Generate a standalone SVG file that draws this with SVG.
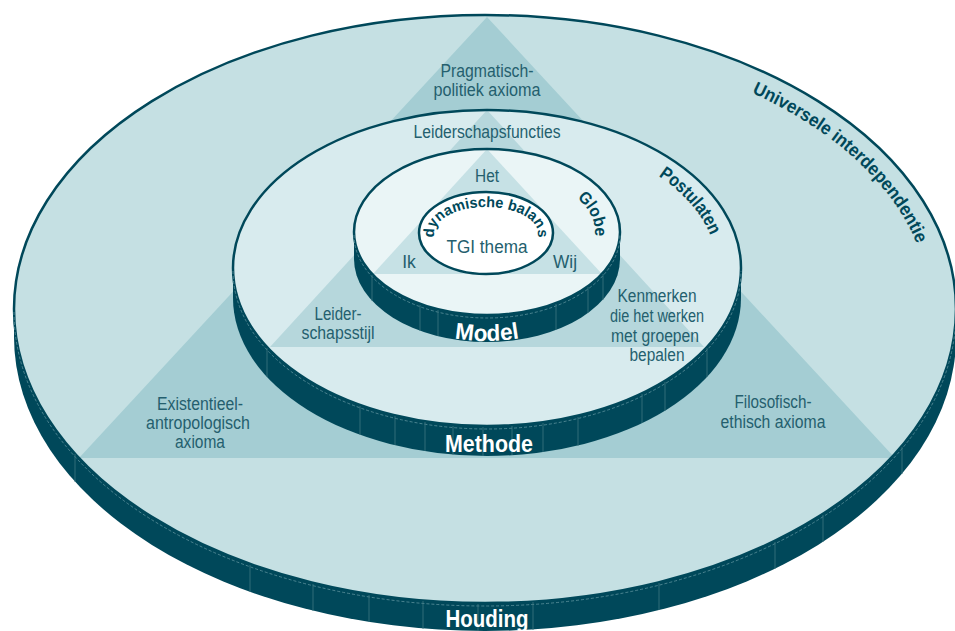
<svg xmlns="http://www.w3.org/2000/svg" width="955" height="631" viewBox="0 0 955 631">
<style>
.dark{fill:#00485a}
.edge{fill:none;stroke:#00485a;stroke-width:2.5}
.seg{stroke:#3d7682;stroke-width:0.8}
.dash{fill:none;stroke:#6a9ca6;stroke-width:0.7;stroke-dasharray:3 2}
.lbl{font-family:"Liberation Sans",Arial,sans-serif;font-size:17.5px;fill:#245f6e;text-anchor:middle}
.bold{font-family:"Liberation Sans",Arial,sans-serif;font-weight:bold;fill:#00485a}
.white{font-family:"Liberation Sans",Arial,sans-serif;font-weight:bold;fill:#ffffff;text-anchor:middle}
</style>
<defs>
<clipPath id="clipOuter"><ellipse cx="485" cy="309" rx="471" ry="294"/></clipPath>
<clipPath id="clipMiddle"><ellipse cx="487" cy="268" rx="254" ry="158"/></clipPath>
<clipPath id="clipInner"><ellipse cx="487" cy="232" rx="133" ry="83"/></clipPath>
<path id="pUniv" d="M485,39 A445,270 0 0 1 485,579"/>
<path id="pPost" d="M487,130 A230,138 0 0 1 487,406"/>
<path id="pGlobe" d="M487,170 A108,62 0 0 1 487,294"/>
<path id="pDyn" d="M435.3,240 A52,27 0 1 1 536.7,240"/>
<path id="pModel" d="M357,256 A130,85 0 0 0 617,256"/>
</defs>

<g id="houding">
<ellipse class="dark" cx="485" cy="337" rx="471" ry="294"/>
<rect class="dark" x="14" y="309" width="942" height="28"/>
<ellipse cx="485" cy="309" rx="471" ry="294" fill="#c5e0e3"/>
<polygon points="487,17 79,458 895,458" fill="#a4cdd3" clip-path="url(#clipOuter)"/>
<ellipse class="edge" cx="485" cy="309" rx="471" ry="294"/>
<path class="dash" d="M14,312 A471,294 0 0 0 956,312"/>
<g class="seg">
<line x1="75" y1="454" x2="75" y2="482"/>
<line x1="250" y1="565" x2="250" y2="592"/>
<line x1="313" y1="584" x2="313" y2="611"/>
<line x1="369" y1="595" x2="369" y2="622"/>
<line x1="423" y1="601" x2="423" y2="629"/>
<line x1="478" y1="604" x2="478" y2="631"/>
<line x1="533" y1="602" x2="533" y2="630"/>
<line x1="659" y1="583" x2="659" y2="610"/>
<line x1="775" y1="542" x2="775" y2="569"/>
<line x1="823" y1="515" x2="823" y2="542"/>
<line x1="902" y1="447" x2="902" y2="474"/>
</g>
<text class="white" x="487" y="627" font-size="23" textLength="83" lengthAdjust="spacingAndGlyphs">Houding</text>
<text class="bold" font-size="18.5"><textPath href="#pUniv" startOffset="274" textLength="229" lengthAdjust="spacingAndGlyphs">Universele interdependentie</textPath></text>
<text class="lbl"><tspan x="487" y="77" textLength="93" lengthAdjust="spacingAndGlyphs">Pragmatisch-</tspan></text>
<text class="lbl"><tspan x="487" y="96" textLength="107" lengthAdjust="spacingAndGlyphs">politiek axioma</tspan></text>
<text class="lbl" x="200" y="410" textLength="86" lengthAdjust="spacingAndGlyphs">Existentieel-</text>
<text class="lbl" x="198" y="429" textLength="104" lengthAdjust="spacingAndGlyphs">antropologisch</text>
<text class="lbl" x="200" y="448" textLength="50" lengthAdjust="spacingAndGlyphs">axioma</text>
<text class="lbl" x="773" y="408" textLength="77" lengthAdjust="spacingAndGlyphs">Filosofisch-</text>
<text class="lbl" x="773" y="428" textLength="105" lengthAdjust="spacingAndGlyphs">ethisch axioma</text>
</g>

<g id="methode">
<ellipse class="dark" cx="487" cy="298" rx="254" ry="158"/>
<rect class="dark" x="233" y="268" width="508" height="30"/>
<ellipse cx="487" cy="268" rx="254" ry="158" fill="#d8ebee"/>
<polygon points="487,110 270,347 704,347" fill="#b6d7dc" clip-path="url(#clipMiddle)"/>
<ellipse class="edge" cx="487" cy="268" rx="254" ry="158"/>
<path class="dash" d="M233,271 A254,158 0 0 0 741,271"/>
<g class="seg">
<line x1="267" y1="348" x2="267" y2="377"/>
<line x1="360" y1="406" x2="360" y2="435"/>
<line x1="395" y1="416" x2="395" y2="445"/>
<line x1="425" y1="422" x2="425" y2="451"/>
<line x1="453" y1="426" x2="453" y2="455"/>
<line x1="483" y1="427" x2="483" y2="456"/>
<line x1="512" y1="426" x2="512" y2="455"/>
<line x1="543" y1="423" x2="543" y2="452"/>
<line x1="578" y1="417" x2="578" y2="446"/>
<line x1="642" y1="394" x2="642" y2="423"/>
<line x1="665" y1="382" x2="665" y2="411"/>
<line x1="707" y1="348" x2="707" y2="377"/>
</g>
<text class="white" x="489" y="452" font-size="24" textLength="88" lengthAdjust="spacingAndGlyphs">Methode</text>
<text class="bold" font-size="18.5"><textPath href="#pPost" startOffset="180" textLength="80" lengthAdjust="spacingAndGlyphs">Postulaten</textPath></text>
<text class="lbl" x="487" y="138" textLength="147" lengthAdjust="spacingAndGlyphs">Leiderschapsfuncties</text>
<text class="lbl" x="338" y="320" textLength="47" lengthAdjust="spacingAndGlyphs">Leider-</text>
<text class="lbl" x="338" y="339" textLength="73" lengthAdjust="spacingAndGlyphs">schapsstijl</text>
<text class="lbl" x="657" y="302" textLength="79" lengthAdjust="spacingAndGlyphs">Kenmerken</text>
<text class="lbl" x="657" y="322" textLength="94" lengthAdjust="spacingAndGlyphs">die het werken</text>
<text class="lbl" x="655" y="342" textLength="88" lengthAdjust="spacingAndGlyphs">met groepen</text>
<text class="lbl" x="657" y="361" textLength="55" lengthAdjust="spacingAndGlyphs">bepalen</text>
</g>

<g id="model">
<ellipse class="dark" cx="487" cy="259" rx="133" ry="83"/>
<rect class="dark" x="354" y="232" width="266" height="27"/>
<ellipse cx="487" cy="232" rx="133" ry="83" fill="#eaf5f6"/>
<polygon points="487,149 373,274 602,274" fill="#c6e1e5" clip-path="url(#clipInner)"/>
<ellipse class="edge" cx="487" cy="232" rx="133" ry="83"/>
<path class="dash" d="M354,235 A133,83 0 0 0 620,235"/>
<g class="seg">
<line x1="372" y1="275" x2="372" y2="301"/>
<line x1="420" y1="305" x2="420" y2="331"/>
<line x1="438" y1="310" x2="438" y2="336"/>
<line x1="556" y1="304" x2="556" y2="330"/>
<line x1="588" y1="287" x2="588" y2="313"/>
<line x1="603" y1="274" x2="603" y2="300"/>
</g>
<text class="white" font-size="23"><textPath href="#pModel" startOffset="50%" textLength="65" lengthAdjust="spacingAndGlyphs">Model</textPath></text>
<text class="bold" font-size="17"><textPath href="#pGlobe" startOffset="96" textLength="44" lengthAdjust="spacingAndGlyphs">Globe</textPath></text>
<text class="lbl" x="487" y="182" textLength="24" lengthAdjust="spacingAndGlyphs">Het</text>
<text class="lbl" x="409" y="268">Ik</text>
<text class="lbl" x="565" y="268" textLength="24" lengthAdjust="spacingAndGlyphs">Wij</text>
</g>

<g id="tgi-thema">
<ellipse cx="486" cy="233" rx="67" ry="41" fill="#ffffff" stroke="#00485a" stroke-width="2.5"/>
<text class="bold" font-size="15" text-anchor="middle"><textPath href="#pDyn" startOffset="50%" textLength="134" lengthAdjust="spacingAndGlyphs">dynamische balans</textPath></text>
<text class="lbl" x="487" y="253" fill="#00485a" textLength="81" lengthAdjust="spacingAndGlyphs">TGI thema</text>
</g>
</svg>
